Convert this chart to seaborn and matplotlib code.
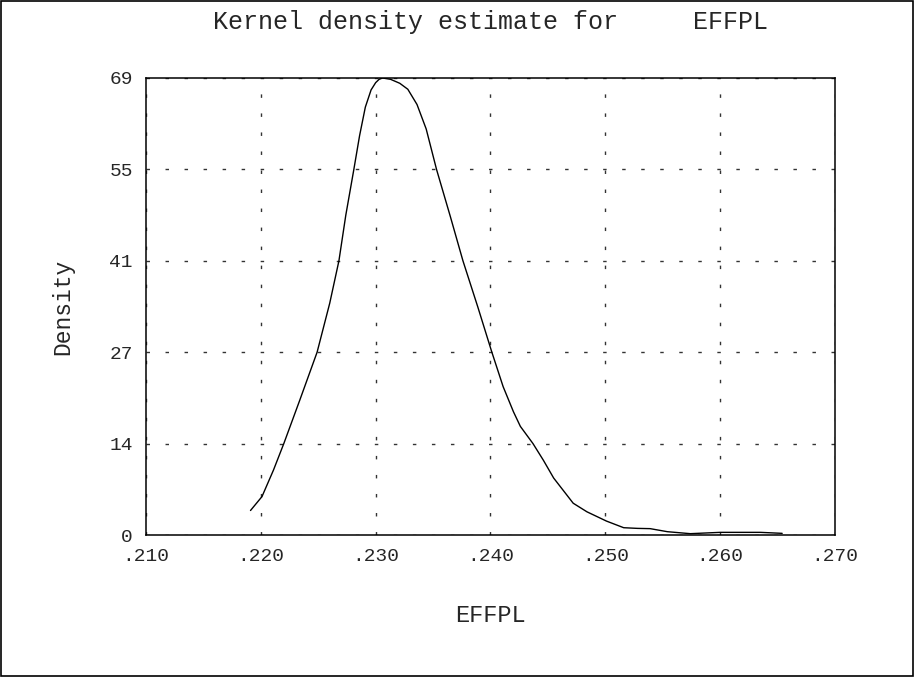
import matplotlib
matplotlib.use("Agg")
import matplotlib.pyplot as plt
import seaborn as sns
import pandas as pd
from matplotlib.ticker import FixedLocator, AutoMinorLocator, MultipleLocator
from matplotlib.patches import Rectangle

# Values
effpl = [0.2191, 0.2201, 0.2211, 0.2220, 0.2234, 0.2249, 0.2260, 0.2268,
         0.2274, 0.2281, 0.2286, 0.2291, 0.2296, 0.2300, 0.2303, 0.2306,
         0.2313, 0.2321, 0.2328, 0.2336, 0.2344, 0.2353, 0.2365, 0.2376,
         0.2389, 0.2401, 0.2411, 0.2420, 0.2426, 0.2437, 0.2446, 0.2455,
         0.2472, 0.2484, 0.2501, 0.2516, 0.2528, 0.2539, 0.2554, 0.2574,
         0.2600, 0.2635, 0.2654]
density = [3.7, 5.8, 9.8, 13.8, 20.4, 27.6, 35.0, 41.4,
           48.3, 55.2, 60.3, 64.6, 67.2, 68.3, 68.8, 69.0,
           68.8, 68.2, 67.3, 65.0, 61.3, 55.2, 48.1, 41.4,
           34.4, 27.7, 22.4, 18.6, 16.4, 13.8, 11.3, 8.6,
           4.8, 3.5, 2.1, 1.1, 1.0, 0.96, 0.5, 0.2,
           0.4, 0.4, 0.25]

x_ticks = [0.210, 0.220, 0.230, 0.240, 0.250, 0.260, 0.270]
x_labels = [".210", ".220", ".230", ".240", ".250", ".260", ".270"]
y_ticks = [0, 13.8, 27.6, 41.4, 55.2, 69]
y_labels = ["0", "14", "27", "41", "55", "69"]

df = pd.DataFrame({"EFFPL": effpl, "Density": density})

sns.set_style("white")
plt.rcParams['font.family'] = ['Liberation Mono', 'DejaVu Sans Mono']
plt.rcParams['lines.scale_dashes'] = False

fig = plt.figure(figsize=(9.14, 6.77), dpi=100)
ax = fig.add_axes([146 / 914, 142 / 677, 689 / 914, 457 / 677])

sns.lineplot(data=df, x="EFFPL", y="Density", ax=ax, color="black",
             linewidth=1.0, sort=False)

ax.set_xlim(0.210, 0.270)
ax.set_ylim(0, 69)
ax.xaxis.set_major_locator(FixedLocator(x_ticks))
ax.set_xticklabels(x_labels)
ax.xaxis.set_minor_locator(MultipleLocator(0.005))
ax.yaxis.set_major_locator(FixedLocator(y_ticks))
ax.set_yticklabels(y_labels)
ax.yaxis.set_minor_locator(AutoMinorLocator(5))

ax.tick_params(axis="both", which="major", direction="out", length=6.5,
               width=1, color="black", labelsize=14, pad=3)
ax.tick_params(axis="both", which="minor", direction="out", length=2.5,
               width=1, color="black")

ax.grid(True, which="major", color="#333333", linewidth=1,
        linestyle=(0, (2.5, 11.2)))
for s in ax.spines.values():
    s.set_color("black")
    s.set_linewidth(1.1)

ax.set_title("Kernel density estimate for     EFFPL", fontsize=18, pad=35)
ax.set_xlabel("EFFPL", fontsize=17, labelpad=28)
ax.set_ylabel("Density", fontsize=16.5, labelpad=25)

# border around the whole figure
fig.add_artist(Rectangle((0.001, 0.001), 0.998, 0.997, transform=fig.transFigure,
                         fill=False, edgecolor="black", linewidth=1.2))

fig.savefig("out.png", dpi=100)
